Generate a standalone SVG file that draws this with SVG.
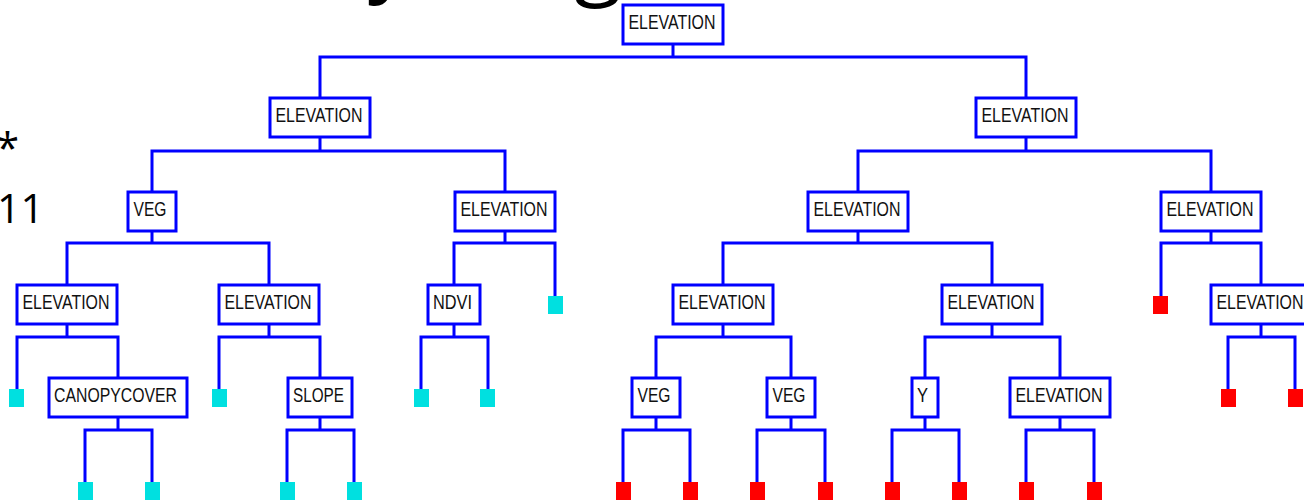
<svg xmlns="http://www.w3.org/2000/svg" width="1304" height="503" viewBox="0 0 1304 503">
<style>
.bg{fill:#ffffff}
.box{fill:#ffffff;stroke:#0000ff;stroke-width:3}
.lbl{font-family:"Liberation Sans",Arial,sans-serif;font-size:20px;fill:#111111;text-anchor:middle}
.c{fill:none;stroke:#0000ff;stroke-width:3;stroke-linejoin:miter}
.cy{fill:#00e0e0}
.rd{fill:#ff0000}
.big{font-family:"Open Sans","Liberation Sans",sans-serif;fill:#000000}
</style>
<rect class="bg" x="0" y="0" width="1304" height="503"/>
<g id="slide-text">
<text class="big" x="368" y="-15" font-size="88">y</text>
<text class="big" x="574" y="-12" font-size="88">g</text>
<text class="big" x="-4" y="163" font-size="42" font-family="Liberation Sans">*</text>
<text class="big" x="-3" y="223" font-size="41" font-family="Liberation Sans">11</text>
</g>
<g id="connectors">
<path class="c" d="M673 44V57H320V98M673 57H1026V98"/>
<path class="c" d="M320 137V151H152V192M320 151H505V192"/>
<path class="c" d="M1026 137V151H858V192M1026 151H1211V192"/>
<path class="c" d="M152 231V243H67V285M152 243H269V285"/>
<path class="c" d="M505 231V243H454V285M505 243H555V296"/>
<path class="c" d="M858 231V243H723V285M858 243H992V285"/>
<path class="c" d="M1211 231V243H1161V296M1211 243H1261V285"/>
<path class="c" d="M67 324V337H17V389M67 337H118V378"/>
<path class="c" d="M269 324V337H219V389M269 337H320V378"/>
<path class="c" d="M454 324V337H421V389M454 337H488V389"/>
<path class="c" d="M723 324V337H656V378M723 337H791V378"/>
<path class="c" d="M992 324V337H925V378M992 337H1060V378"/>
<path class="c" d="M1261 324V337H1228V389M1261 337H1295V389"/>
<path class="c" d="M118 417V430H85V482M118 430H152V482"/>
<path class="c" d="M320 417V430H287V482M320 430H354V482"/>
<path class="c" d="M656 417V430H623V482M656 430H690V482"/>
<path class="c" d="M791 417V430H757V482M791 430H825V482"/>
<path class="c" d="M925 417V430H892V482M925 430H959V482"/>
<path class="c" d="M1060 417V430H1026V482M1060 430H1094V482"/>
</g>
<g id="n-root"><rect class="box" x="623" y="5" width="100" height="39"/><text class="lbl" x="672" y="28.5" textLength="87" lengthAdjust="spacingAndGlyphs">ELEVATION</text></g>
<g id="n-l1a"><rect class="box" x="270" y="98" width="100" height="39"/><text class="lbl" x="319" y="121.5" textLength="87" lengthAdjust="spacingAndGlyphs">ELEVATION</text></g>
<g id="n-l1b"><rect class="box" x="976" y="98" width="100" height="39"/><text class="lbl" x="1025" y="121.5" textLength="87" lengthAdjust="spacingAndGlyphs">ELEVATION</text></g>
<g id="n-veg1"><rect class="box" x="128" y="192" width="48" height="39"/><text class="lbl" x="150" y="215.5" textLength="33" lengthAdjust="spacingAndGlyphs">VEG</text></g>
<g id="n-l2b"><rect class="box" x="455" y="192" width="100" height="39"/><text class="lbl" x="504" y="215.5" textLength="87" lengthAdjust="spacingAndGlyphs">ELEVATION</text></g>
<g id="n-l2c"><rect class="box" x="808" y="192" width="100" height="39"/><text class="lbl" x="857" y="215.5" textLength="87" lengthAdjust="spacingAndGlyphs">ELEVATION</text></g>
<g id="n-l2d"><rect class="box" x="1161" y="192" width="100" height="39"/><text class="lbl" x="1210" y="215.5" textLength="87" lengthAdjust="spacingAndGlyphs">ELEVATION</text></g>
<g id="n-l3a"><rect class="box" x="17" y="285" width="100" height="39"/><text class="lbl" x="66" y="308.5" textLength="87" lengthAdjust="spacingAndGlyphs">ELEVATION</text></g>
<g id="n-l3b"><rect class="box" x="219" y="285" width="100" height="39"/><text class="lbl" x="268" y="308.5" textLength="87" lengthAdjust="spacingAndGlyphs">ELEVATION</text></g>
<g id="n-ndvi"><rect class="box" x="428" y="285" width="52" height="39"/><text class="lbl" x="452.5" y="308.5" textLength="39" lengthAdjust="spacingAndGlyphs">NDVI</text></g>
<g id="n-leaf-c1"><rect class="cy" x="548" y="296" width="15" height="18"/></g>
<g id="n-l3c"><rect class="box" x="673" y="285" width="100" height="39"/><text class="lbl" x="722" y="308.5" textLength="87" lengthAdjust="spacingAndGlyphs">ELEVATION</text></g>
<g id="n-l3d"><rect class="box" x="942" y="285" width="100" height="39"/><text class="lbl" x="991" y="308.5" textLength="87" lengthAdjust="spacingAndGlyphs">ELEVATION</text></g>
<g id="n-leaf-r1"><rect class="rd" x="1153" y="296" width="15" height="18"/></g>
<g id="n-l3e"><rect class="box" x="1211" y="285" width="100" height="39"/><text class="lbl" x="1260" y="308.5" textLength="87" lengthAdjust="spacingAndGlyphs">ELEVATION</text></g>
<g id="n-leaf-c2"><rect class="cy" x="9" y="389" width="15" height="18"/></g>
<g id="n-canopy"><rect class="box" x="49" y="378" width="138" height="39"/><text class="lbl" x="115.5" y="401.5" textLength="123" lengthAdjust="spacingAndGlyphs">CANOPYCOVER</text></g>
<g id="n-leaf-c3"><rect class="cy" x="212" y="389" width="15" height="18"/></g>
<g id="n-slope"><rect class="box" x="288" y="378" width="64" height="39"/><text class="lbl" x="318.5" y="401.5" textLength="51" lengthAdjust="spacingAndGlyphs">SLOPE</text></g>
<g id="n-leaf-c4"><rect class="cy" x="414" y="389" width="15" height="18"/></g>
<g id="n-leaf-c5"><rect class="cy" x="480" y="389" width="15" height="18"/></g>
<g id="n-veg2"><rect class="box" x="632" y="378" width="48" height="39"/><text class="lbl" x="654" y="401.5" textLength="33" lengthAdjust="spacingAndGlyphs">VEG</text></g>
<g id="n-veg3"><rect class="box" x="767" y="378" width="48" height="39"/><text class="lbl" x="789" y="401.5" textLength="33" lengthAdjust="spacingAndGlyphs">VEG</text></g>
<g id="n-y"><rect class="box" x="912" y="378" width="26" height="39"/><text class="lbl" x="922.5" y="401.5" textLength="11" lengthAdjust="spacingAndGlyphs">Y</text></g>
<g id="n-l4e"><rect class="box" x="1010" y="378" width="100" height="39"/><text class="lbl" x="1059" y="401.5" textLength="87" lengthAdjust="spacingAndGlyphs">ELEVATION</text></g>
<g id="n-leaf-r2"><rect class="rd" x="1221" y="389" width="15" height="18"/></g>
<g id="n-leaf-r3"><rect class="rd" x="1288" y="389" width="15" height="18"/></g>
<g id="n-leaves-l5">
<rect class="cy" x="78" y="482" width="15" height="18"/>
<rect class="cy" x="145" y="482" width="15" height="18"/>
<rect class="cy" x="280" y="482" width="15" height="18"/>
<rect class="cy" x="347" y="482" width="15" height="18"/>
<rect class="rd" x="616" y="482" width="15" height="18"/>
<rect class="rd" x="683" y="482" width="15" height="18"/>
<rect class="rd" x="750" y="482" width="15" height="18"/>
<rect class="rd" x="818" y="482" width="15" height="18"/>
<rect class="rd" x="885" y="482" width="15" height="18"/>
<rect class="rd" x="952" y="482" width="15" height="18"/>
<rect class="rd" x="1019" y="482" width="15" height="18"/>
<rect class="rd" x="1087" y="482" width="15" height="18"/>
</g>
</svg>
